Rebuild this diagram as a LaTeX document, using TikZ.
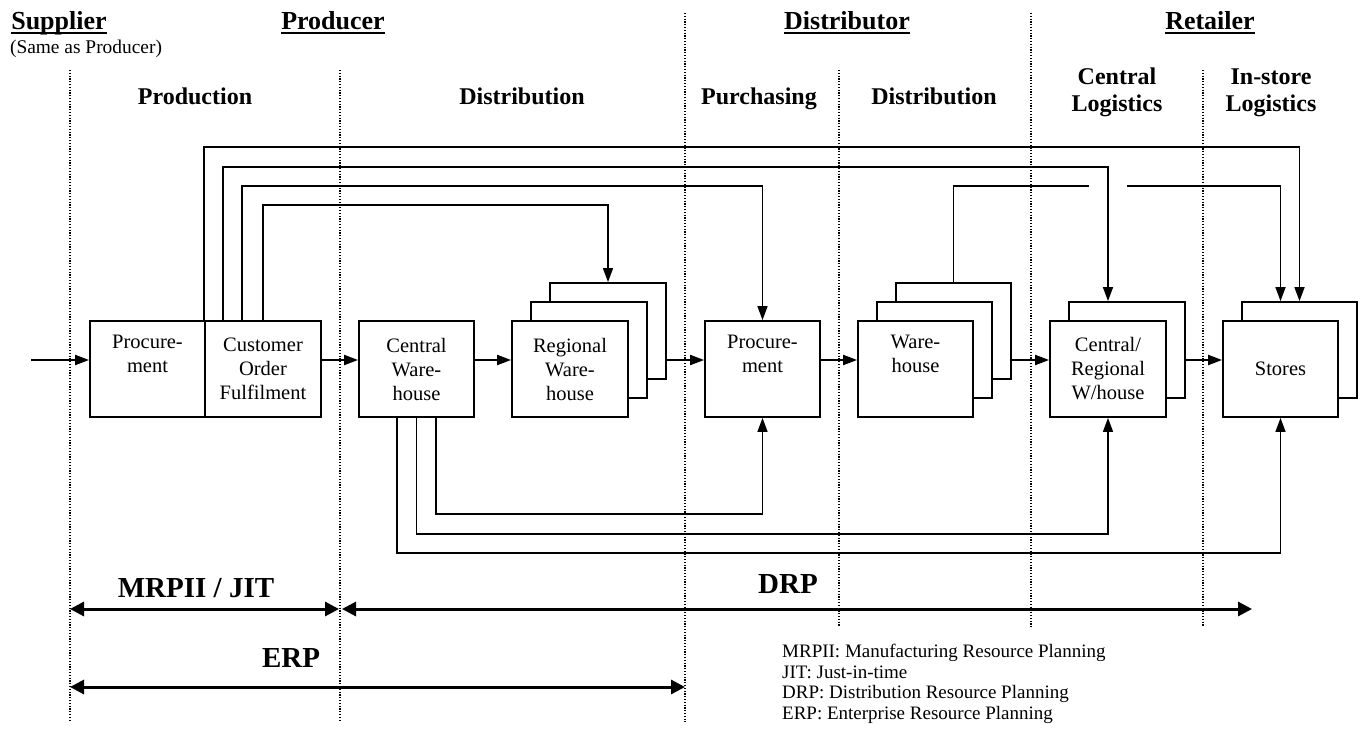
\documentclass[tikz,border=0pt]{standalone}
\usepackage{fontspec}
\setmainfont{Liberation Serif}
\usetikzlibrary{arrows.meta}
\begin{document}
\begin{tikzpicture}[x=1pt,y=-1pt,
  box/.style={draw,line width=1.8pt,fill=white,minimum width=116pt,minimum height=96pt,
    inner sep=0pt,align=center,font=\fontsize{20.5}{24}\selectfont},
  layer/.style={draw,line width=1.8pt,fill=white,minimum width=116pt,minimum height=96pt,inner sep=0pt},
  flow/.style={line width=2pt,-{Triangle[length=14pt,width=10pt]}},
  conn/.style={line width=1.6pt,-{Triangle[length=14pt,width=10pt]}},
  span/.style={line width=3pt,{Triangle[length=14pt,width=14pt]}-{Triangle[length=14pt,width=14pt]}},
  lane/.style={line width=1.2pt,dash pattern=on 1.2pt off 1.6pt},
  party/.style={font=\fontsize{26}{30}\selectfont\bfseries,inner sep=0pt,anchor=base},
  phase/.style={font=\fontsize{24}{27}\selectfont\bfseries,inner sep=0pt,anchor=base,align=center},
  plan/.style={font=\fontsize{29}{34}\selectfont\bfseries,inner sep=0pt},
  ubar/.style={line width=1.8pt}
]
\useasboundingbox (0,0) rectangle (1365,735);

% lane separators
\draw[lane] (70,70) -- (70,722);
\draw[lane] (340,70) -- (340,722);
\draw[lane] (685,13) -- (685,722);
\draw[lane] (839,70) -- (839,627);
\draw[lane] (1031,13) -- (1031,627);
\draw[lane] (1203,70) -- (1203,627);

% parties
\node[party] (sup) at (59,30) {Supplier};
\node[party] (pro) at (333,30) {Producer};
\node[party] (dis) at (847,30) {Distributor};
\node[party] (ret) at (1210,30) {Retailer};
\foreach \p in {sup,pro,dis,ret}
  \draw[ubar] ([yshift=-3pt]\p.base west) -- ([yshift=-3pt]\p.base east);
\node[font=\fontsize{19.4}{22}\selectfont,inner sep=0pt,anchor=base] (same) at (86,54) {(Same as Producer)};

% phases
\node[phase] (ph1) at (195,105) {Production};
\node[phase] (ph2) at (522,105) {Distribution};
\node[phase] (ph3) at (759,105) {Purchasing};
\node[phase] (ph4) at (934,105) {Distribution};
\node[phase] (ph5) at (1117,112) {Central\\Logistics};
\node[phase] (ph6) at (1271,112) {In-store\\Logistics};

% boxes
\node[box,minimum width=115pt] (proc1) at (147.5,369) {Procure-\\ment\\\strut};
\node[box] (cof) at (263,369) {Customer\\Order\\Fulfilment};
\node[box,minimum width=115pt] (cw) at (416.5,369) {Central\\Ware-\\house};
\node[layer] (rw3) at (608,331) {};
\node[layer] (rw2) at (589,350) {};
\node[box] (rw) at (570,369) {Regional\\Ware-\\house};
\node[box,minimum width=115pt] (proc2) at (762.5,369) {Procure-\\ment\\\strut};
\node[layer,minimum width=115pt] (wh3) at (953.5,331) {};
\node[layer,minimum width=115pt] (wh2) at (934.5,350) {};
\node[box,minimum width=115pt] (wh) at (915.5,369) {Ware-\\house\\\strut};
\node[layer] (crw2) at (1127,350) {};
\node[box] (crw) at (1108,369) {Central/\\Regional\\W/house};
\node[layer,minimum width=115pt] (st2) at (1299.5,350) {};
\node[box,minimum width=115pt] (st) at (1280.5,369) {Stores};

% main flow
\coordinate (fy) at (0,360);
\coordinate (src) at (31,360);
\draw[flow] (src) -- (fy -| proc1.west);
\draw[flow] (fy -| cof.east) -- (fy -| cw.west);
\draw[flow] (fy -| cw.east) -- (fy -| rw.west);
\draw[flow] (fy -| rw3.east) -- (fy -| proc2.west);
\draw[flow] (fy -| proc2.east) -- (fy -| wh.west);
\draw[flow] (fy -| wh3.east) -- (fy -| crw.west);
\draw[flow] (fy -| crw2.east) -- (fy -| st.west);

% direct deliveries from order fulfilment
\draw[conn] (cof.north west) -- ++(0,-173) -| (st2.north);
\draw[conn] ([xshift=19pt]cof.north west) -- ++(0,-153) -| (crw.north |- crw2.north);
\draw[conn] ([xshift=38pt]cof.north west) -- ++(0,-134) -| (proc2.north);
\draw[conn] (cof.north) -- ++(0,-115) -| (rw3.north);
\draw[conn] (wh3.north) -- ++(0,-96) -- ++(135.5,0) ++(38,0) -| (st.north |- st2.north);

% direct deliveries from central warehouse
\draw[conn] ([xshift=19.5pt]cw.south) -- ++(0,96) -| (proc2.south);
\draw[conn] (cw.south) -- ++(0,116) -| (crw.south);
\draw[conn] ([xshift=-19.5pt]cw.south) -- ++(0,135) -| (st.south);

% planning spans
\coordinate (m0) at (70,609);
\coordinate (m1) at (339,609);
\coordinate (d0) at (342,609);
\coordinate (d1) at (1252,609);
\coordinate (e0) at (70,687);
\coordinate (e1) at (685,687);
\draw[span] (m0) -- (m1);
\draw[span] (d0) -- (d1);
\draw[span] (e0) -- (e1);
\node[plan] (mrp) at (196,588) {MRPII / JIT};
\node[plan] (drp) at (788,584) {DRP};
\node[plan] (erp) at (291,658) {ERP};

% key
\node[font=\fontsize{19}{20.5}\selectfont,align=left,anchor=north west,inner sep=0pt] (key) at (782,644)
  {MRPII: Manufacturing Resource Planning\\JIT: Just-in-time\\DRP: Distribution Resource Planning\\ERP: Enterprise Resource Planning};
\end{tikzpicture}
\end{document}
